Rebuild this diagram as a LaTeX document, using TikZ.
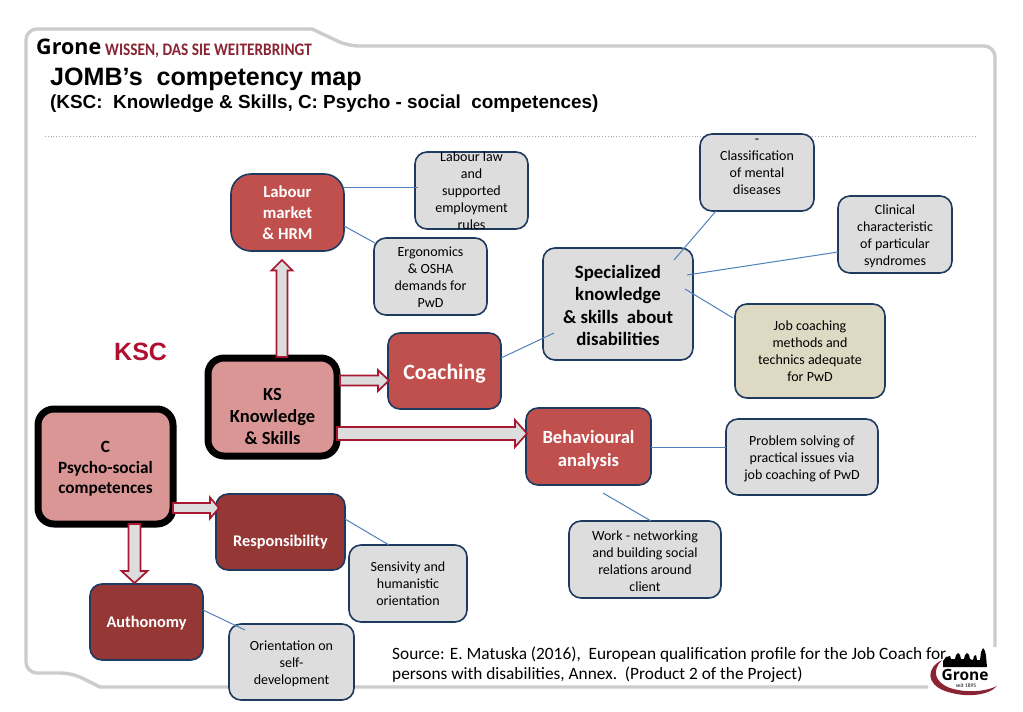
\documentclass[tikz,border=0pt]{standalone}
\usepackage{fontspec}
\setmainfont{Carlito}
\newfontfamily\arialf{Liberation Sans}
\newfontfamily\logof{Open Sans}
\usetikzlibrary{calc}
\definecolor{navy}{HTML}{1F3A5F}
\definecolor{linkblue}{HTML}{4F81BD}
\definecolor{redbox}{HTML}{C0504D}
\definecolor{darkbox}{HTML}{953735}
\definecolor{pinkbox}{HTML}{D99694}
\definecolor{greybox}{HTML}{DDDDDD}
\definecolor{beigebox}{HTML}{DDD9C3}
\definecolor{arrowred}{HTML}{A5182F}
\definecolor{ksccol}{HTML}{B01030}
\definecolor{framegrey}{HTML}{CCCCCC}
\definecolor{logored}{HTML}{8A2433}
\tikzset{
  x=1pt,y=-1pt,
  boxbase/.style={rounded corners=12pt,draw=navy,line width=1.6pt,inner sep=0pt,font=\fontsize{14}{17}\selectfont},
  greynode/.style={boxbase,fill=greybox,text=black},
  beigenode/.style={boxbase,fill=beigebox,text=black},
  rednode/.style={boxbase,fill=redbox,text=white,font=\fontsize{16.7}{21}\selectfont\bfseries},
  darknode/.style={boxbase,fill=darkbox,text=white,font=\fontsize{16.3}{18}\selectfont\bfseries},
  pinknode/.style={boxbase,rounded corners=16pt,fill=pinkbox,draw=black,line width=7pt,text=black,font=\fontsize{18.5}{22}\selectfont\bfseries},
  link/.style={draw=linkblue,line width=1pt},
  blockstyle/.style={draw=arrowred,fill=greybox,line width=1.7pt,line join=miter},
}
% \blockarrow{from}{to}{shaft half}{head half}{head length}
\newcommand{\blockarrow}[5]{%
  \draw[blockstyle]
    ($(#1)!#3pt!90:(#2)$) --
    ($($(#2)!#5pt!(#1)$)!#3pt!-90:(#1)$) --
    ($($(#2)!#5pt!(#1)$)!#4pt!-90:(#1)$) --
    (#2) --
    ($($(#2)!#5pt!(#1)$)!#4pt!90:(#1)$) --
    ($($(#2)!#5pt!(#1)$)!#3pt!90:(#1)$) --
    ($(#1)!#3pt!-90:(#2)$) -- cycle;}
% style,name,x0,y0,x1,y1,text-drop,text
\newcommand{\boxat}[8]{%
  \node[#1,minimum width=#5pt-#3pt,minimum height=#6pt-#4pt] (#2) at ({(#3+#5)/2},{(#4+#6)/2})
    {\smash{\raisebox{-#7pt}{\parbox[c]{\dimexpr#5pt-#3pt\relax}{\centering #8}}}};}
\newcommand{\lnk}[6]{\draw[link] ([shift={(#2,#3)}]#1.center) -- ([shift={(#5,#6)}]#4.center);}
\begin{document}
\begin{tikzpicture}
\useasboundingbox (0,0) rectangle (1023,712);
\fill[white] (0,0) rectangle (1023,712);
% frame
\coordinate (frA) at (995,647);
\coordinate (frB) at (930,687);
\draw[framegrey,line width=3.4pt,rounded corners=11pt] (frA) -- (995,46) -- (348,46) [sharp corners] -- (312,29) [rounded corners=11pt] -- (26,29) -- (26,673) -- (72,673) [sharp corners] -- (100,687) -- (frB);
% header
\node[anchor=base west,inner sep=0pt,font=\logof\fontsize{21.5}{22}\selectfont\bfseries] (logoname) at (36,54) {Grone};
\node[anchor=base west,inner sep=0pt,text=logored,transform shape,xscale=.87,font=\fontsize{17.6}{18}\selectfont\bfseries] (logotag) at (105,55) {WISSEN, DAS SIE WEITERBRINGT};
\node[anchor=base west,inner sep=0pt,font=\arialf\fontsize{25.1}{26}\selectfont\bfseries] (title) at (50,85) {JOMB’s\ \ competency map};
\node[anchor=base west,inner sep=0pt,font=\arialf\fontsize{18.9}{20}\selectfont\bfseries] (subtitle) at (50,108) {(KSC:\ \ Knowledge \& Skills, C: Psycho - social\ \ competences)};
\coordinate (dotA) at (45,136);
\coordinate (dotB) at (975,136);
\draw[gray!70,line width=.8pt,dotted] (dotA) -- (dotB);
\node[anchor=base west,inner sep=0pt,text=ksccol,font=\arialf\fontsize{25}{26}\selectfont\bfseries] (ksc) at (114,360) {KSC};
% boxes
\boxat{rednode,rounded corners=20pt}{lm}{231}{174}{344}{251}{4.5}{Labour\\market\\\& HRM}
\boxat{greynode}{law}{415}{152}{528}{229}{4}{Labour law\\and\\supported\\employment\\rules}
\boxat{greynode}{ergo}{374}{238}{487}{315}{4.5}{Ergonomics\\\& OSHA\\demands for\\PwD}
\boxat{greynode}{classif}{700}{134}{814}{211}{6.5}{-\\Classification\\of mental\\diseases\\\mbox{}}
\boxat{greynode}{clin}{838}{196}{952}{273}{5}{Clinical\\characteristic\\of particular\\syndromes}
\boxat{greynode}{spec}{543}{248}{693}{360}{5}{\fontsize{18.8}{22.5}\selectfont\bfseries Specialized\\knowledge\\\& skills\ \ about\\disabilities}
\boxat{beigenode}{job}{735}{304}{885}{398}{3.5}{Job coaching\\methods and\\technics adequate\\for PwD}
\boxat{rednode}{coach}{388}{333}{501}{409}{7.5}{\fontsize{21.8}{24}\selectfont Coaching}
\boxat{pinknode}{ks}{208}{358}{337}{456}{13.5}{KS\\Knowledge\\\& Skills}
\boxat{rednode}{behav}{526}{408}{651}{485}{7.5}{\fontsize{18.6}{23}\selectfont Behavioural\\analysis}
\boxat{greynode}{prob}{726}{419}{878}{495}{5.5}{Problem solving of\\practical issues via\\job coaching of PwD}
\boxat{pinknode}{cc}{38}{409}{173}{524}{7}{\fontsize{17.2}{20.5}\selectfont C\\Psycho-social\\competences}
\boxat{darknode}{resp}{216}{494}{345}{570}{14.5}{Responsibility}
\boxat{greynode}{work}{569}{521}{721}{598}{5.5}{Work - networking\\and building social\\relations around\\client}
\boxat{greynode}{sens}{349}{545}{467}{622}{3.5}{Sensivity and\\humanistic\\orientation}
\boxat{darknode}{auth}{90}{584}{203}{660}{5.5}{Authonomy}
\boxat{greynode}{orient}{229}{624}{354}{700}{5.5}{Orientation on\\self-\\development}
% thin connectors
\lnk{lm}{56.5}{-25}{law}{-53.5}{-3}
\lnk{lm}{56.5}{13.5}{ergo}{-55.5}{-33.5}
\lnk{spec}{56}{-44}{classif}{-41}{38.5}
\lnk{spec}{69}{-29}{clin}{-57}{17.5}
\lnk{spec}{67}{-15}{job}{-77}{-33}
\lnk{coach}{56.5}{-13}{spec}{-64}{29}
\lnk{behav}{62.5}{.5}{prob}{-76}{-10}
\coordinate (workfree) at (603,493);
\draw[link] (workfree) -- ([shift={(6,-38.5)}]work.center);
\lnk{resp}{64.5}{-13}{sens}{-19}{-38.5}
\lnk{auth}{56.5}{-12}{orient}{-46.5}{-32}
% block arrows
\coordinate (a1s) at (282,357); \coordinate (a1e) at (282,260);
\coordinate (a2s) at (340,380.5); \coordinate (a2e) at (389,380.5);
\coordinate (a3s) at (337,433.5); \coordinate (a3e) at (527,433.5);
\coordinate (a4s) at (173,508); \coordinate (a4e) at (219,508);
\coordinate (a5s) at (134.5,524); \coordinate (a5e) at (134.5,583);
\blockarrow{a1s}{a1e}{5.5}{10.5}{10.5}
\blockarrow{a2s}{a2e}{5}{10.5}{11}
\blockarrow{a3s}{a3e}{6.5}{13.5}{12}
\blockarrow{a4s}{a4e}{5}{10.5}{9}
\blockarrow{a5s}{a5e}{6}{13}{12}
% corner logo
\fill[white] (928,648) rectangle (1000,700);
\fill[logored] (942,660) .. controls (926,668) and (926,684) .. (945,691) .. controls (965,698) and (988,696) .. (997,686) .. controls (985,692) and (965,693) .. (950,688) .. controls (934,682) and (932,670) .. (942,660) -- cycle;
\fill[black] (943,667) -- (943,661) -- (946,657) -- (950,656) -- (951,659) -- (955,659) -- (956,655) -- (958,653) -- (960,655) -- (961,659) -- (964,659) -- (965,655) -- (967,653) -- (969,655) -- (970,659) -- (973,660) -- (974,656) -- (976,655) -- (977,660) -- (980,660) -- (981,652) -- (983,648) -- (985,651) -- (986,656) -- (987,667) -- cycle;
\node[anchor=base,inner sep=0pt,font=\logof\fontsize{15.5}{16}\selectfont\bfseries] (logo2) at (965,680) {Grone};
\node[anchor=base,inner sep=0pt,font=\fontsize{5.5}{6}\selectfont] (logo3) at (966,687) {seit 1895};
% source
\node[anchor=base west,inner sep=0pt,font=\fontsize{17.3}{20}\selectfont] (src1) at (392,659) {Source: E. Matuska (2016),\ \ European qualification profile for the Job Coach for};
\node[anchor=base west,inner sep=0pt,font=\fontsize{17.3}{20}\selectfont] (src2) at (392,679) {persons with disabilities, Annex.\ \ (Product 2 of the Project)};
\end{tikzpicture}
\end{document}
